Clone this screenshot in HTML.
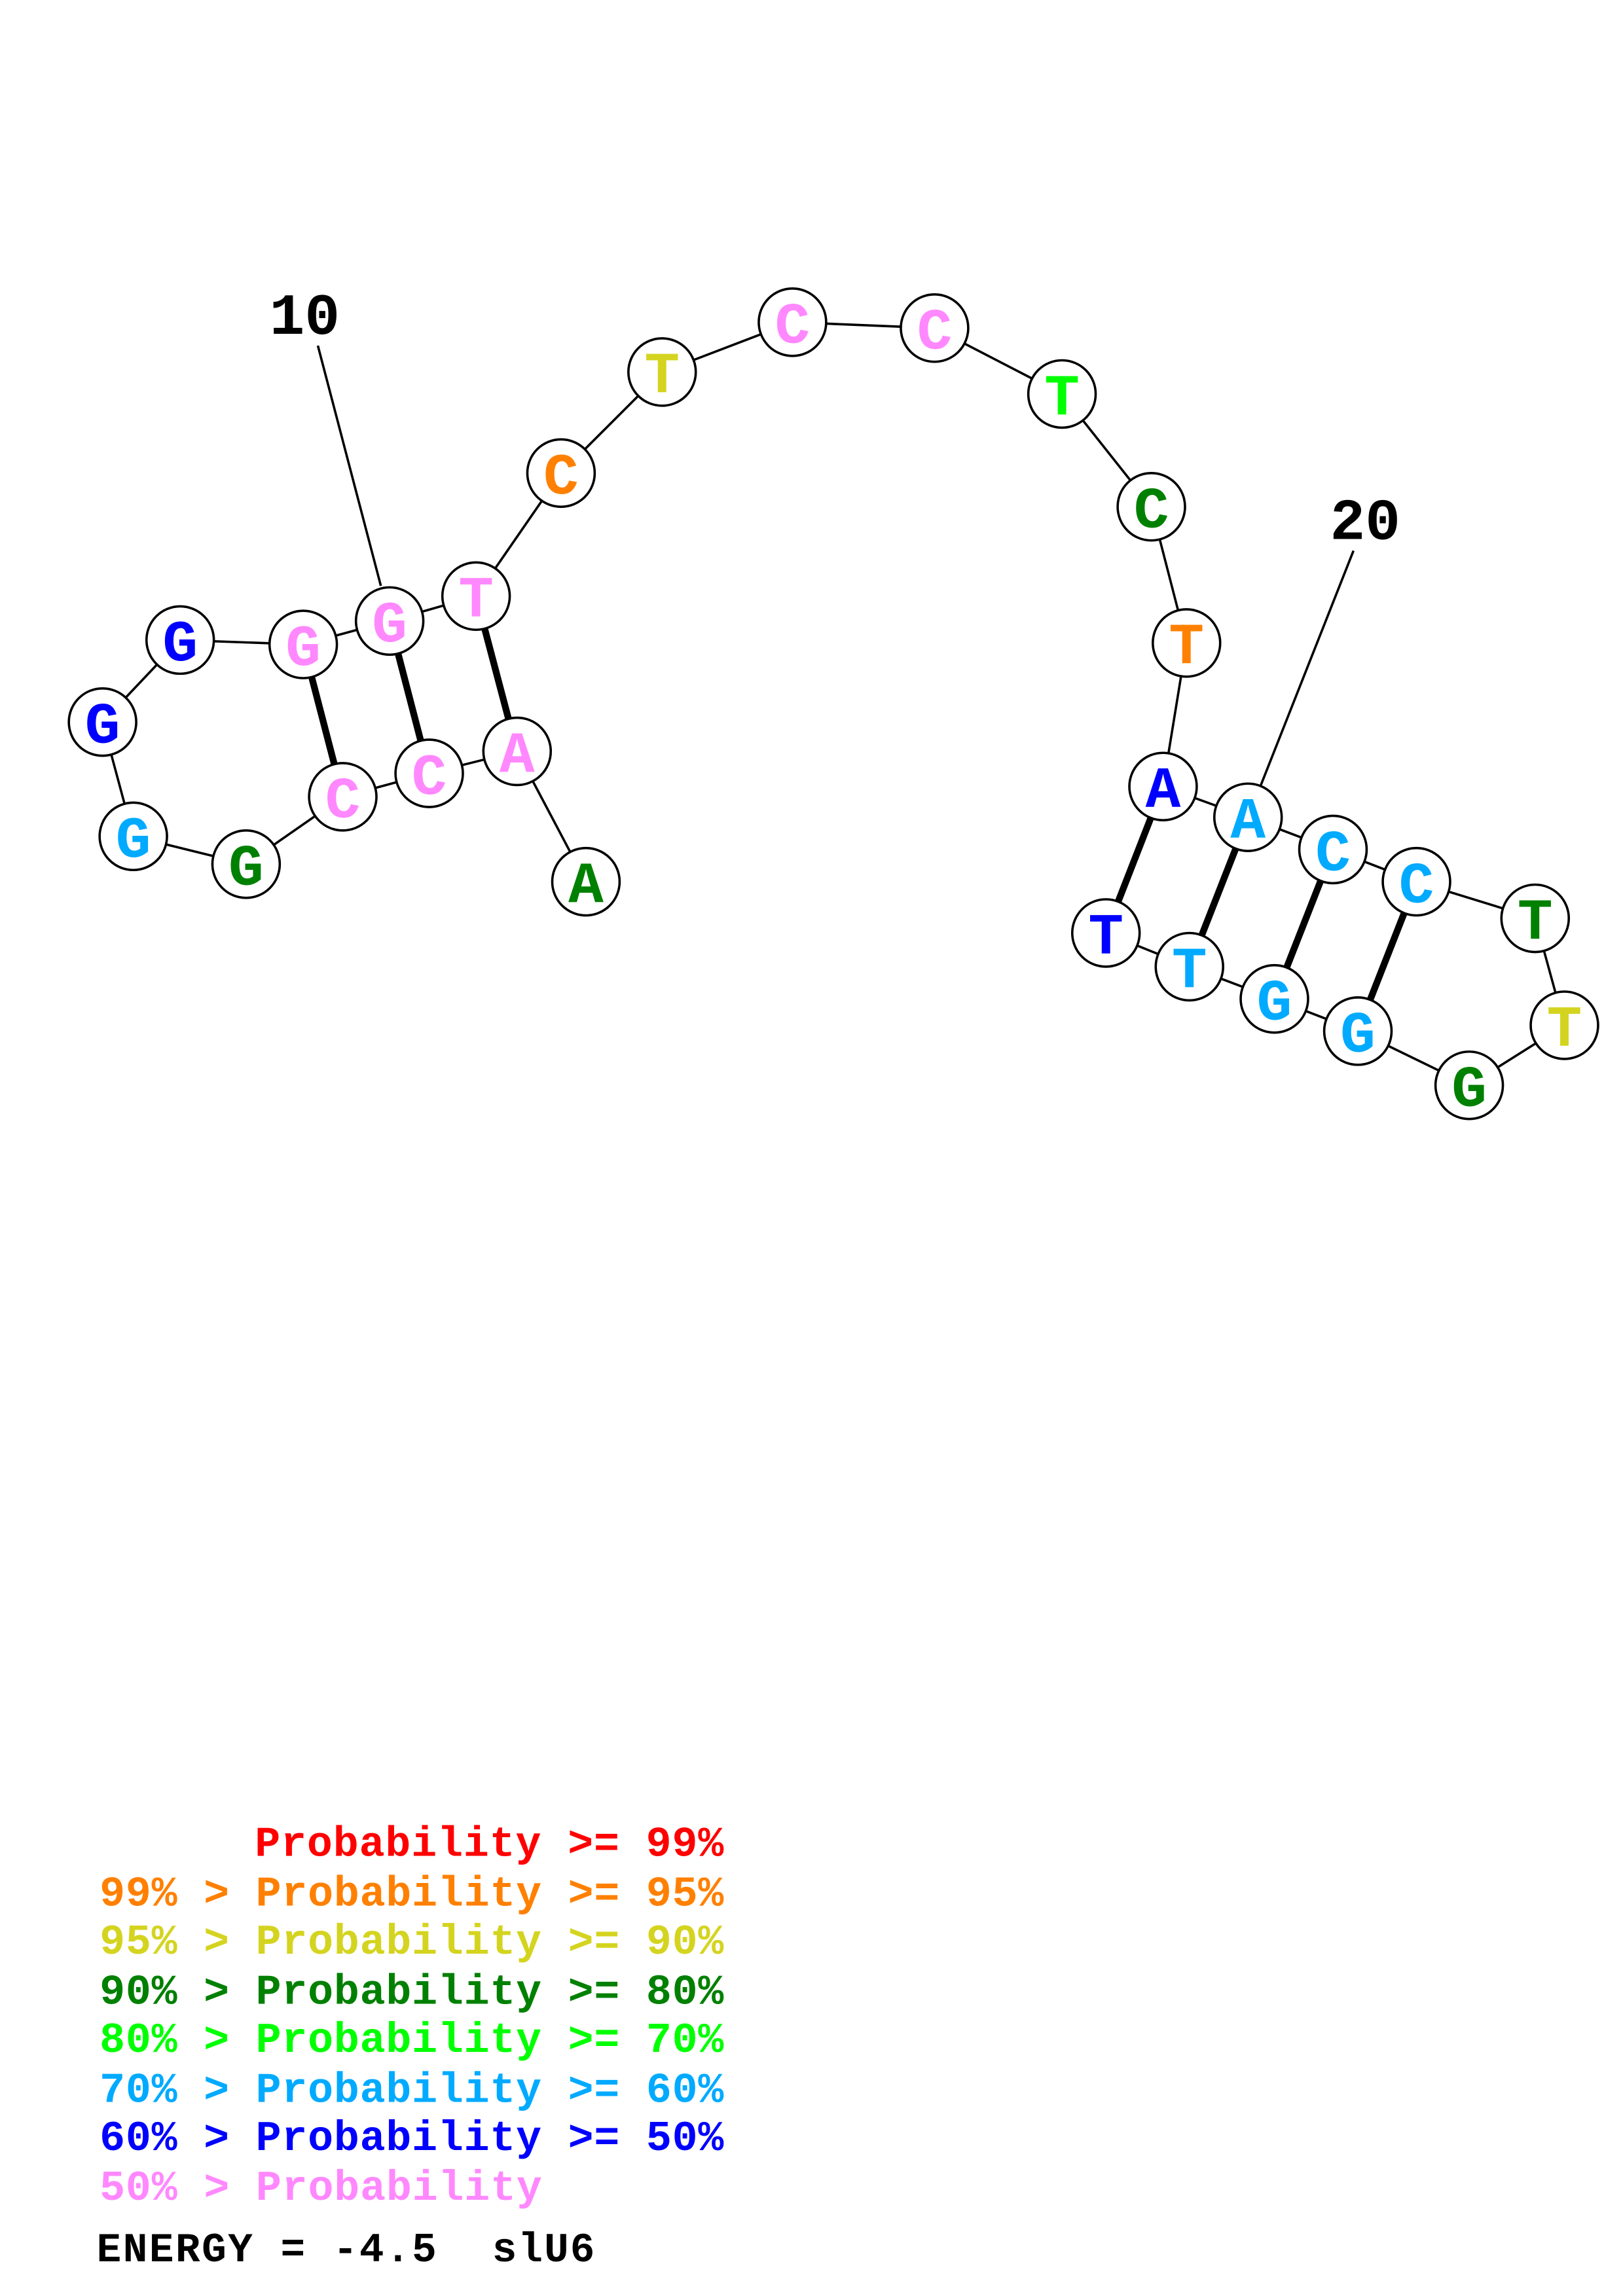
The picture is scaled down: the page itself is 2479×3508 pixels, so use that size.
<!DOCTYPE html>
<html><head><meta charset="utf-8"><style>html,body{margin:0;padding:0;background:#fff}svg{display:block}</style></head><body>
<svg width="2479" height="3508" viewBox="0 0 1108 1567.6" preserveAspectRatio="none" xmlns="http://www.w3.org/2000/svg">
<g stroke="#000" stroke-width="1.6" fill="none">
<line x1="217" y1="236" x2="260" y2="400"/>
<line x1="924" y1="376" x2="860" y2="538"/>
<polyline points="400,602 353,513 293,528 234,544 168,590 91,571 70,493 123,437 207,440 266,424 325,407 383,323 452,254 541,220 638,224 725,269 786,346 810,439 794,537 852,558 910,580 967,602 1048,627 1068,700 1003,741 927,704 870,682 812,660 755,637"/>
</g>
<g stroke="#000" stroke-width="4.6">
<line x1="353" y1="513" x2="325" y2="407"/>
<line x1="293" y1="528" x2="266" y2="424"/>
<line x1="234" y1="544" x2="207" y2="440"/>
<line x1="794" y1="537" x2="755" y2="637"/>
<line x1="852" y1="558" x2="812" y2="660"/>
<line x1="910" y1="580" x2="870" y2="682"/>
<line x1="967" y1="602" x2="927" y2="704"/>
</g>
<g stroke="#000" stroke-width="1.6" fill="#fff">
<circle cx="400" cy="602" r="23"/><circle cx="353" cy="513" r="23"/><circle cx="293" cy="528" r="23"/><circle cx="234" cy="544" r="23"/><circle cx="168" cy="590" r="23"/><circle cx="91" cy="571" r="23"/><circle cx="70" cy="493" r="23"/><circle cx="123" cy="437" r="23"/><circle cx="207" cy="440" r="23"/><circle cx="266" cy="424" r="23"/><circle cx="325" cy="407" r="23"/><circle cx="383" cy="323" r="23"/><circle cx="452" cy="254" r="23"/><circle cx="541" cy="220" r="23"/><circle cx="638" cy="224" r="23"/><circle cx="725" cy="269" r="23"/><circle cx="786" cy="346" r="23"/><circle cx="810" cy="439" r="23"/><circle cx="794" cy="537" r="23"/><circle cx="852" cy="558" r="23"/><circle cx="910" cy="580" r="23"/><circle cx="967" cy="602" r="23"/><circle cx="1048" cy="627" r="23"/><circle cx="1068" cy="700" r="23"/><circle cx="1003" cy="741" r="23"/><circle cx="927" cy="704" r="23"/><circle cx="870" cy="682" r="23"/><circle cx="812" cy="660" r="23"/><circle cx="755" cy="637" r="23"/>
</g>
<g font-family="Liberation Mono, monospace" font-weight="bold" font-size="40" text-anchor="middle">
<text x="400" y="616" fill="#008000">A</text>
<text x="353" y="527" fill="#FF88FF">A</text>
<text x="293" y="542" fill="#FF88FF">C</text>
<text x="234" y="558" fill="#FF88FF">C</text>
<text x="168" y="604" fill="#008000">G</text>
<text x="91" y="585" fill="#00AAFF">G</text>
<text x="70" y="507" fill="#0000FF">G</text>
<text x="123" y="451" fill="#0000FF">G</text>
<text x="207" y="454" fill="#FF88FF">G</text>
<text x="266" y="438" fill="#FF88FF">G</text>
<text x="325" y="421" fill="#FF88FF">T</text>
<text x="383" y="337" fill="#FF8000">C</text>
<text x="452" y="268" fill="#D4D420">T</text>
<text x="541" y="234" fill="#FF88FF">C</text>
<text x="638" y="238" fill="#FF88FF">C</text>
<text x="725" y="283" fill="#00FF00">T</text>
<text x="786" y="360" fill="#008000">C</text>
<text x="810" y="453" fill="#FF8000">T</text>
<text x="794" y="551" fill="#0000FF">A</text>
<text x="852" y="572" fill="#00AAFF">A</text>
<text x="910" y="594" fill="#00AAFF">C</text>
<text x="967" y="616" fill="#00AAFF">C</text>
<text x="1048" y="641" fill="#008000">T</text>
<text x="1068" y="714" fill="#D4D420">T</text>
<text x="1003" y="755" fill="#008000">G</text>
<text x="927" y="718" fill="#00AAFF">G</text>
<text x="870" y="696" fill="#00AAFF">G</text>
<text x="812" y="674" fill="#00AAFF">T</text>
<text x="755" y="651" fill="#0000FF">T</text>
<text x="208" y="228" fill="#000">10</text>
<text x="932" y="368" fill="#000">20</text>
</g>
<g font-family="Liberation Mono, monospace" font-weight="bold" font-size="29" xml:space="preserve">
<text x="174" y="1267" fill="#FF0000" textLength="320">Probability &gt;= 99%</text>
<text x="68" y="1301" fill="#FF8000" textLength="426">99% &gt; Probability &gt;= 95%</text>
<text x="68" y="1334" fill="#D4D420" textLength="426">95% &gt; Probability &gt;= 90%</text>
<text x="68" y="1368" fill="#008000" textLength="426">90% &gt; Probability &gt;= 80%</text>
<text x="68" y="1401" fill="#00FF00" textLength="426">80% &gt; Probability &gt;= 70%</text>
<text x="68" y="1435" fill="#00AAFF" textLength="426">70% &gt; Probability &gt;= 60%</text>
<text x="68" y="1468" fill="#0000FF" textLength="426">60% &gt; Probability &gt;= 50%</text>
<text x="68" y="1502" fill="#FF88FF" textLength="302">50% &gt; Probability</text>
<text x="66" y="1544" fill="#000" font-size="28" textLength="232">ENERGY = -4.5</text>
<text x="336" y="1544" fill="#000" font-size="28" textLength="70">slU6</text>
</g>
</svg>
</body></html>
